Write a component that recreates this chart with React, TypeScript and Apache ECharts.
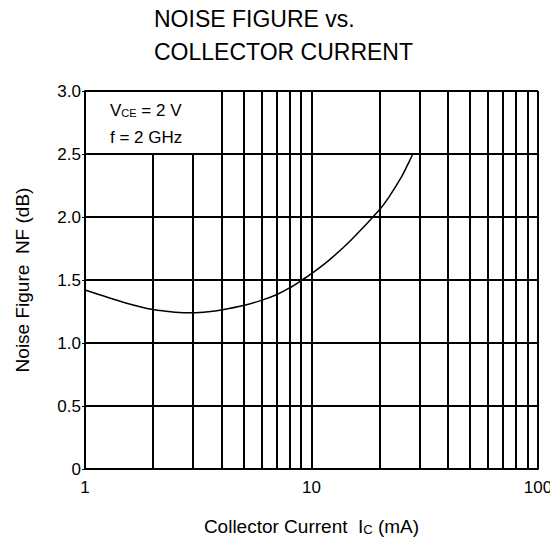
import React, { useEffect, useRef } from "react";
import * as echarts from "echarts";

const currentMA = [1, 1.5, 2, 2.5, 3, 3.5, 4, 5, 6, 7, 8, 9, 10, 12, 15, 20, 22, 25, 27, 28];
const noiseFigureDB = [1.42, 1.32, 1.265, 1.245, 1.24, 1.248, 1.262, 1.297, 1.338, 1.383, 1.437, 1.495, 1.55, 1.66, 1.82, 2.06, 2.16, 2.32, 2.44, 2.5];
const minorGridX = [2, 3, 4, 5, 6, 7, 8, 9, 20, 30, 40, 50, 60, 70, 80, 90];
const titleLines = ["NOISE FIGURE vs.", "COLLECTOR CURRENT"];
const conditionLine1 = "{n|V}{s|CE}{n| = 2 V}";
const conditionLine2 = "{n|f = 2 GHz}";

const FONT = "Liberation Sans";

export default function App() {
  const ref = useRef<HTMLDivElement>(null);
  useEffect(() => {
    if (!ref.current) return;
    const chart = echarts.init(ref.current, null, { renderer: "svg" });
    const gridLines = minorGridX.map((v) => [
      { coord: [v, 0] },
      { coord: [v, v < 4 ? 2.5 : 3] },
    ]);
    const rich = {
      n: { fontFamily: FONT, fontSize: 17, color: "#000" },
      s: { fontFamily: FONT, fontSize: 11, color: "#000", verticalAlign: "bottom", padding: [6, 0, 0, 0] },
    };
    chart.setOption({
      animation: false,
      backgroundColor: "#ffffff",
      title: {
        text: titleLines.join("\n"),
        left: 154,
        top: 2,
        padding: 0,
        textStyle: {
          fontFamily: FONT,
          fontSize: 23,
          fontWeight: "normal",
          color: "#000",
          lineHeight: 33,
        },
      },
      graphic: [
        {
          type: "text",
          x: 110,
          y: 110,
          style: { text: conditionLine1, rich, verticalAlign: "middle", align: "left" },
        },
        {
          type: "text",
          x: 110,
          y: 137,
          style: { text: conditionLine2, rich, verticalAlign: "middle", align: "left" },
        },
      ],
      grid: { left: 85, right: 20, top: 91, bottom: 76 },
      xAxis: {
        type: "log",
        logBase: 10,
        min: 1,
        max: 100,
        name: "Collector Current  I{s|C} (mA)",
        nameLocation: "middle",
        nameGap: 48,
        nameTextStyle: {
          fontFamily: FONT,
          fontSize: 19,
          color: "#000",
          rich: { s: { fontFamily: FONT, fontSize: 13, color: "#000", verticalAlign: "bottom" } },
        },
        axisLine: { show: true, lineStyle: { color: "#000", width: 2 } },
        axisTick: { show: false },
        axisLabel: { fontFamily: FONT, fontSize: 17, color: "#000", margin: 10 },
        splitLine: { show: true, lineStyle: { color: "#000", width: 2 } },
        minorTick: { show: false },
      },
      yAxis: {
        type: "value",
        min: 0,
        max: 3,
        interval: 0.5,
        name: "Noise Figure  NF (dB)",
        nameLocation: "middle",
        nameGap: 53,
        nameTextStyle: { fontFamily: FONT, fontSize: 19, color: "#000" },
        axisLine: { show: true, lineStyle: { color: "#000", width: 2 } },
        axisTick: { show: true, length: 3, lineStyle: { color: "#000", width: 1 } },
        axisLabel: {
          fontFamily: FONT,
          fontSize: 17,
          color: "#000",
          margin: 4,
          formatter: (v: number) => (v === 0 ? "0" : v.toFixed(1)),
        },
        splitLine: { show: true, lineStyle: { color: "#000", width: 2 } },
      },
      series: [
        {
          type: "line",
          data: [],
          silent: true,
          markLine: {
            silent: true,
            symbol: ["none", "none"],
            label: { show: false },
            lineStyle: { color: "#000", width: 2, type: "solid" },
            data: gridLines,
          },
        },
        {
          type: "line",
          data: currentMA.map((x, i) => [x, noiseFigureDB[i]]),
          smooth: 0.3,
          showSymbol: false,
          lineStyle: { color: "#000", width: 1.5 },
          z: 5,
        },
      ],
    });
    return () => chart.dispose();
  }, []);
  return <div ref={ref} style={{ width: 558, height: 545, margin: -8 }} />;
}
